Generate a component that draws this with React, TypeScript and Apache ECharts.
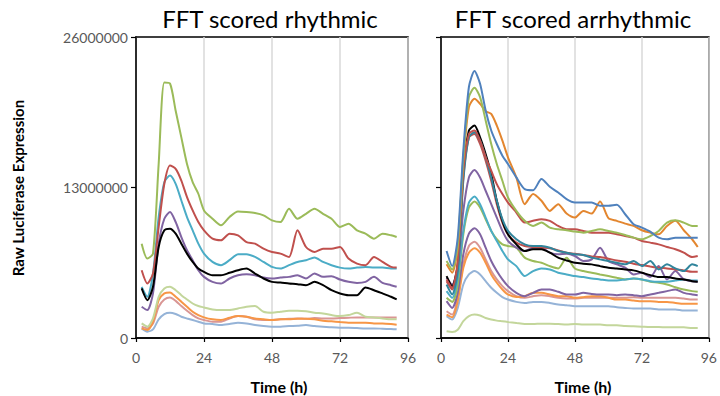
import React, { useEffect, useRef } from "react";
import * as echarts from "echarts";

// Time points (h)
const TIME_H = [2, 4, 6, 8, 10, 12, 14, 16, 18, 20, 22, 24, 27, 30, 33, 36, 39, 42, 45, 48, 51, 54, 57, 60, 63, 66, 69, 72, 75, 78, 81, 84, 87, 90, 92];
const X_MIN = 0;
const X_MAX = 96;
const X_STEP = 24;
const Y_MIN = 0;
const Y_MAX = 26000000;
const Y_STEP = 13000000;
const UNIT = 1e6; // values below are in millions

const TITLE_LEFT = "FFT scored rhythmic";
const TITLE_RIGHT = "FFT scored arrhythmic";
const Y_NAME = "Raw Luciferase Expression";
const X_NAME = "Time (h)";

// ---- FFT scored rhythmic (millions)
const rhyGreen = [8.15, 6.86, 7.29, 15.04, 22.07, 21.98, 19.63, 17.33, 15.04, 13.46, 12.46, 11.02, 10.3, 9.73, 10.45, 10.93, 10.88, 10.79, 10.59, 10.16, 10.02, 11.16, 10.3, 10.73, 11.16, 10.73, 10.3, 9.59, 9.87, 9.3, 9.01, 8.58, 9.01, 8.87, 8.72];
const rhyRed = [5.85, 4.71, 5.57, 9.59, 13.32, 14.9, 14.61, 13.6, 12.17, 11.02, 10.02, 9.3, 8.58, 8.44, 9.01, 8.87, 8.29, 8.15, 7.72, 7.43, 7.29, 7.0, 9.3, 7.86, 7.43, 7.72, 7.72, 7.86, 6.86, 6.43, 6.29, 7.0, 6.57, 6.14, 6.08];
const rhyTeal = [4.42, 3.56, 5.57, 10.45, 13.46, 14.03, 13.32, 11.88, 10.45, 9.3, 8.15, 7.29, 6.57, 6.29, 6.72, 7.23, 7.23, 7.0, 6.57, 6.14, 6.0, 6.29, 6.57, 6.72, 6.95, 6.57, 6.29, 6.08, 6.0, 6.08, 6.14, 6.08, 6.08, 6.0, 6.0];
const rhyPurple = [2.7, 2.41, 3.85, 8.15, 10.3, 10.88, 10.02, 8.72, 7.58, 6.72, 5.85, 5.28, 4.85, 4.71, 5.14, 5.42, 5.51, 5.42, 5.22, 5.14, 5.22, 5.28, 5.42, 5.14, 5.57, 5.28, 5.34, 5.05, 4.85, 4.76, 4.85, 5.28, 4.76, 4.56, 4.42];
const rhyBlack = [4.28, 3.27, 4.42, 7.86, 9.3, 9.44, 9.01, 8.15, 7.29, 6.57, 6.0, 5.71, 5.42, 5.42, 5.63, 5.85, 6.0, 5.57, 5.14, 4.85, 4.79, 4.71, 4.65, 4.56, 4.85, 4.56, 4.13, 3.85, 3.7, 3.7, 4.36, 4.13, 3.85, 3.56, 3.33];
const rhyLightGreen = [1.26, 0.98, 1.69, 3.56, 4.28, 4.42, 4.13, 3.7, 3.33, 2.98, 2.76, 2.64, 2.47, 2.41, 2.41, 2.55, 2.7, 2.76, 2.27, 2.18, 2.27, 2.35, 2.35, 2.32, 2.18, 2.12, 1.98, 1.89, 1.98, 2.18, 1.84, 1.78, 1.69, 1.61, 1.61];
const rhyOrange = [0.83, 0.69, 1.41, 3.27, 3.85, 3.93, 3.56, 3.13, 2.7, 2.27, 1.98, 1.78, 1.61, 1.55, 1.75, 1.89, 1.84, 1.69, 1.61, 1.55, 1.61, 1.61, 1.66, 1.66, 1.61, 1.49, 1.44, 1.38, 1.32, 1.32, 1.32, 1.26, 1.26, 1.21, 1.15];
const rhyPink = [0.98, 0.83, 1.26, 2.7, 3.33, 3.5, 3.21, 2.76, 2.35, 1.98, 1.69, 1.55, 1.41, 1.41, 1.69, 1.89, 1.84, 1.61, 1.55, 1.55, 1.61, 1.66, 1.69, 1.66, 1.72, 1.69, 1.69, 1.72, 1.75, 1.78, 1.78, 1.78, 1.78, 1.78, 1.78];
const rhyLightBlue = [0.83, 0.55, 0.75, 1.61, 2.07, 2.18, 2.07, 1.84, 1.69, 1.55, 1.41, 1.26, 1.21, 1.12, 1.21, 1.32, 1.26, 1.12, 1.03, 0.98, 0.98, 1.03, 1.06, 1.12, 1.03, 0.98, 0.92, 0.89, 0.89, 0.86, 0.83, 0.83, 0.8, 0.77, 0.75];

// ---- FFT scored arrhythmic (millions)
const arrBlue = [7.51, 6.21, 8.67, 16.18, 21.68, 23.06, 21.96, 19.65, 17.92, 16.76, 15.75, 15.03, 13.87, 12.86, 12.77, 13.73, 13.06, 12.57, 11.99, 11.7, 11.7, 11.7, 11.42, 11.42, 11.5, 10.69, 9.83, 9.54, 9.19, 8.67, 8.53, 8.67, 8.67, 8.67, 8.67];
const arrGreen = [6.65, 5.92, 8.09, 15.61, 20.81, 21.62, 20.81, 18.79, 16.76, 15.03, 13.58, 12.14, 10.98, 10.12, 9.68, 9.97, 9.54, 9.39, 9.31, 9.19, 9.1, 9.25, 9.39, 9.25, 9.1, 8.9, 8.67, 8.53, 8.81, 9.25, 9.97, 10.17, 9.97, 9.68, 9.68];
const arrOrange = [6.36, 5.64, 7.8, 15.32, 19.94, 20.66, 20.23, 19.59, 19.36, 18.35, 17.05, 15.61, 13.87, 11.56, 12.43, 11.85, 10.98, 11.56, 10.75, 10.4, 10.98, 10.75, 11.79, 10.35, 10.12, 9.88, 9.68, 9.31, 9.1, 8.96, 9.68, 10.12, 9.31, 8.53, 7.86];
const arrBlack = [5.35, 4.48, 6.36, 14.45, 17.92, 18.35, 17.34, 15.9, 14.16, 11.85, 10.12, 8.96, 8.09, 7.51, 7.66, 7.66, 7.37, 6.94, 6.7, 6.5, 6.42, 6.36, 6.21, 6.07, 6.01, 5.92, 5.84, 5.64, 5.43, 5.26, 5.26, 5.14, 5.06, 4.91, 4.86];
const arrRedA = [5.06, 4.34, 6.65, 14.45, 17.63, 17.92, 17.05, 15.61, 14.45, 13.29, 12.43, 11.7, 10.84, 9.97, 10.12, 10.26, 10.12, 9.68, 9.39, 9.39, 9.25, 9.1, 9.1, 9.1, 8.96, 8.81, 8.67, 8.38, 8.24, 8.09, 7.86, 7.66, 7.37, 6.99, 7.08];
const arrRedB = [4.91, 4.19, 6.07, 13.87, 17.34, 17.63, 16.76, 15.32, 13.58, 11.56, 9.97, 8.96, 8.24, 7.95, 7.86, 7.8, 7.75, 7.57, 7.37, 7.28, 7.17, 7.05, 6.99, 6.85, 6.7, 6.59, 6.42, 6.3, 6.18, 6.07, 6.01, 5.92, 5.84, 5.72, 5.72];
const arrTealB = [4.62, 3.76, 5.78, 13.58, 17.34, 17.77, 17.05, 15.61, 13.87, 11.85, 10.26, 9.25, 8.53, 8.09, 7.95, 7.95, 7.8, 7.51, 7.37, 7.23, 7.17, 6.94, 6.79, 6.65, 6.5, 6.36, 6.65, 6.21, 6.65, 5.92, 6.36, 6.01, 5.78, 6.36, 6.21];
const arrPurpleA = [5.2, 4.62, 6.07, 10.98, 13.87, 14.51, 13.87, 12.72, 11.56, 10.4, 9.25, 8.38, 7.8, 7.51, 7.8, 7.8, 7.37, 7.23, 7.28, 7.08, 6.65, 6.79, 7.8, 6.65, 6.36, 6.07, 5.49, 5.64, 5.26, 6.21, 5.06, 5.78, 5.06, 4.91, 4.86];
const arrTealA = [4.05, 3.47, 5.2, 9.25, 11.7, 12.22, 11.56, 10.4, 9.25, 8.38, 7.51, 6.79, 6.21, 5.35, 5.78, 6.01, 5.92, 5.64, 5.49, 5.35, 5.26, 5.14, 5.06, 4.97, 4.97, 5.06, 5.14, 5.06, 4.91, 4.86, 4.86, 4.97, 5.06, 4.97, 4.97];
const arrGreenB = [3.47, 3.12, 4.62, 8.96, 11.27, 11.79, 11.27, 10.26, 9.25, 8.53, 8.09, 7.95, 7.8, 6.94, 6.65, 6.5, 6.21, 6.01, 6.94, 6.01, 5.78, 5.64, 5.49, 5.35, 5.2, 5.06, 5.14, 5.06, 4.86, 4.77, 4.62, 4.39, 4.19, 4.05, 3.99];
const arrPurpleB = [3.18, 2.6, 3.9, 7.23, 9.02, 9.48, 8.96, 7.8, 6.65, 5.78, 5.06, 4.48, 3.9, 3.61, 3.9, 4.19, 4.19, 3.99, 3.76, 3.76, 3.9, 3.81, 3.76, 3.76, 3.7, 3.76, 3.7, 3.61, 3.76, 3.9, 4.05, 4.19, 3.9, 3.76, 3.7];
const arrPink = [2.31, 2.02, 3.47, 6.36, 7.95, 8.32, 7.8, 6.79, 5.78, 5.06, 4.48, 4.05, 3.61, 3.47, 3.61, 3.7, 3.61, 3.47, 3.41, 3.41, 3.47, 3.47, 3.47, 3.47, 3.47, 3.47, 3.53, 3.47, 3.47, 3.47, 3.47, 3.47, 3.41, 3.32, 3.32];
const arrOrangeB = [2.02, 1.79, 3.18, 6.07, 7.37, 7.75, 7.37, 6.5, 5.49, 4.77, 4.19, 3.76, 3.55, 3.61, 3.9, 3.9, 3.76, 3.61, 3.61, 3.47, 3.53, 3.61, 3.61, 3.47, 3.32, 3.32, 3.24, 3.18, 3.18, 3.12, 3.12, 3.03, 2.95, 2.95, 2.95];
const arrLightBlue = [1.88, 1.59, 2.6, 4.62, 5.49, 5.78, 5.49, 4.91, 4.34, 3.9, 3.53, 3.32, 3.12, 3.03, 3.12, 3.12, 3.03, 2.89, 2.83, 2.75, 2.75, 2.75, 2.75, 2.75, 2.66, 2.6, 2.54, 2.54, 2.54, 2.46, 2.46, 2.46, 2.37, 2.37, 2.37];
const arrLightGreen = [0.58, 0.52, 0.72, 1.45, 1.88, 2.02, 1.94, 1.73, 1.59, 1.5, 1.45, 1.39, 1.3, 1.21, 1.21, 1.24, 1.24, 1.21, 1.16, 1.21, 1.16, 1.16, 1.16, 1.1, 1.1, 1.04, 1.01, 0.98, 0.95, 0.95, 0.92, 0.92, 0.92, 0.87, 0.87];

const RHYTHMIC: [number[], string][] = [
  [rhyLightBlue, "#95B3D7"],
  [rhyPink, "#D99694"],
  [rhyOrange, "#F79646"],
  [rhyLightGreen, "#C3D69B"],
  [rhyPurple, "#8064A2"],
  [rhyTeal, "#4BACC6"],
  [rhyRed, "#C0504D"],
  [rhyGreen, "#9BBB59"],
  [rhyBlack, "#000000"],
];

const ARRHYTHMIC: [number[], string][] = [
  [arrLightGreen, "#C3D69B"],
  [arrLightBlue, "#95B3D7"],
  [arrPink, "#D99694"],
  [arrOrangeB, "#F79646"],
  [arrPurpleB, "#8064A2"],
  [arrGreenB, "#9BBB59"],
  [arrTealA, "#4BACC6"],
  [arrPurpleA, "#8064A2"],
  [arrRedB, "#C0504D"],
  [arrBlack, "#000000"],
  [arrTealB, "#31859C"],
  [arrRedA, "#C0504D"],
  [arrOrange, "#E3862F"],
  [arrGreen, "#9BBB59"],
  [arrBlue, "#4F81BD"],
];

const FONT = "Lato, 'Open Sans', sans-serif";

export default function App() {
  const ref = useRef<HTMLDivElement>(null);

  useEffect(() => {
    if (!ref.current) return;
    const chart = echarts.init(ref.current, undefined, { renderer: "svg" });

    const grids = [
      { left: 136, top: 37, width: 272, height: 301 },
      { left: 441, top: 37, width: 272, height: 301 },
    ].map((g) => ({ ...g, show: true, borderColor: "#000", borderWidth: 1.5, backgroundColor: "transparent" }));

    const xAxes = [0, 1].map((i) => ({
      type: "value",
      gridIndex: i,
      min: X_MIN,
      max: X_MAX,
      interval: X_STEP,
      axisLine: { show: true, lineStyle: { color: "#000", width: 1.5 } },
      axisTick: { show: true, length: 4, lineStyle: { color: "#000", width: 1.2 } },
      axisLabel: { color: "#595959", fontSize: 14, fontFamily: FONT, margin: 12 },
      splitLine: { show: true, lineStyle: { color: "#D9D9D9", width: 1.5 } },
    }));

    const yAxes = [0, 1].map((i) => ({
      type: "value",
      gridIndex: i,
      min: Y_MIN,
      max: Y_MAX,
      interval: Y_STEP,
      axisLine: { show: true, lineStyle: { color: "#000", width: 1.5 } },
      axisTick: { show: true, length: 5, lineStyle: { color: "#000", width: 1.2 } },
      axisLabel: {
        show: i === 0,
        color: "#595959",
        fontSize: 14,
        fontFamily: FONT,
        margin: 8,
        formatter: (v: number) => String(v),
      },
      splitLine: { show: false },
    }));

    const mk = (list: [number[], string][], idx: number) =>
      list.map(([vals, color], k) => ({
        type: "line",
        name: `s${idx}_${k}`,
        xAxisIndex: idx,
        yAxisIndex: idx,
        data: TIME_H.map((t, j) => [t, vals[j] * UNIT]),
        showSymbol: false,
        symbol: "none",
        smooth: 0.25,
        lineStyle: { color, width: 2 },
        itemStyle: { color },
      }));

    chart.setOption({
      animation: false,
      backgroundColor: "#fff",
      grid: grids,
      xAxis: xAxes,
      yAxis: yAxes,
      series: [...mk(RHYTHMIC, 0), ...mk(ARRHYTHMIC, 1)],
      graphic: [
        {
          type: "text",
          x: 270,
          y: 18,
          style: { text: TITLE_LEFT, font: `24px ${FONT}`, fill: "#000", textAlign: "center", textVerticalAlign: "middle" },
        },
        {
          type: "text",
          x: 573,
          y: 18,
          style: { text: TITLE_RIGHT, font: `24px ${FONT}`, fill: "#000", textAlign: "center", textVerticalAlign: "middle" },
        },
        {
          type: "text",
          x: 18,
          y: 188,
          rotation: Math.PI / 2,
          style: { text: Y_NAME, font: `bold 15px ${FONT}`, fill: "#000", textAlign: "center", textVerticalAlign: "middle" },
        },
        {
          type: "text",
          x: 279,
          y: 386,
          style: { text: X_NAME, font: `bold 16px ${FONT}`, fill: "#000", textAlign: "center", textVerticalAlign: "middle" },
        },
        {
          type: "text",
          x: 583,
          y: 386,
          style: { text: X_NAME, font: `bold 16px ${FONT}`, fill: "#000", textAlign: "center", textVerticalAlign: "middle" },
        },
      ],
    });

    return () => chart.dispose();
  }, []);

  return (
    <div
      ref={ref}
      style={{ position: "absolute", left: 0, top: 0, width: 720, height: 396, background: "#fff" }}
    />
  );
}
